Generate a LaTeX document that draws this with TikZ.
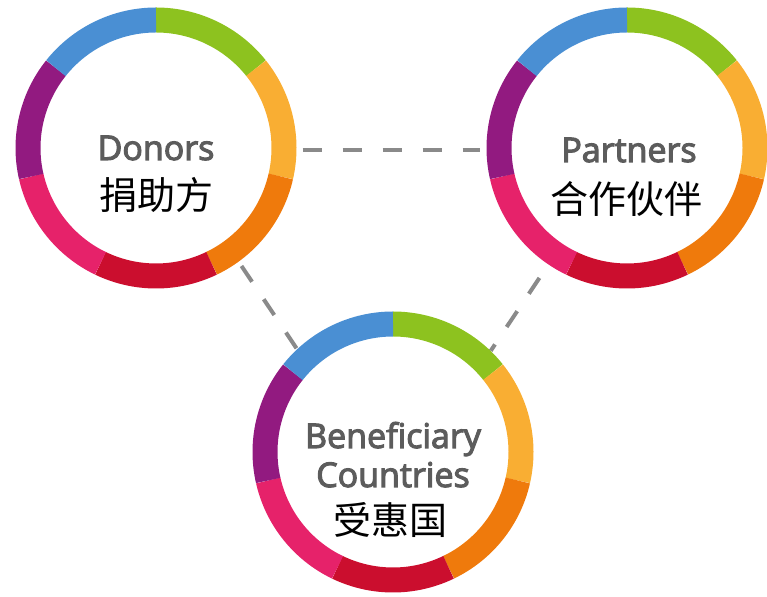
\documentclass[tikz,border=0pt]{standalone}
\usepackage{fontspec}
\setmainfont{Open Sans}
\newfontfamily\ensemi[FakeBold=3.2]{Open Sans}
\newfontfamily\cjk{Noto Sans CJK SC}
\usetikzlibrary{positioning}
\definecolor{RingGreen}{HTML}{8DC21F}
\definecolor{RingYellow}{HTML}{F9AE33}
\definecolor{RingOrange}{HTML}{EF7A0C}
\definecolor{RingRed}{HTML}{CB0E2E}
\definecolor{RingPink}{HTML}{E6226A}
\definecolor{RingPurple}{HTML}{921A80}
\definecolor{RingBlue}{HTML}{4A8FD3}
\definecolor{LinkGray}{HTML}{8A8A8A}
\definecolor{TextGray}{HTML}{5C5C5C}

\begin{document}
\begin{tikzpicture}[x=1pt, y=1pt,
    hub/.style={circle, minimum size=281pt, inner sep=0pt},
    link/.style={LinkGray, line width=4pt, dash pattern=on 19pt off 21pt},
    en/.style={anchor=base, inner sep=0pt, text=TextGray, font=\ensemi\fontsize{34}{36}\selectfont},
    cn/.style={anchor=base, inner sep=0pt, font=\cjk\fontsize{38}{42}\selectfont}]
    \useasboundingbox (0,0) rectangle (767,596);
    \foreach \n/\x/\y in {donors/156/448, partners/627/448, benef/393/144} {
        \node[hub] (\n) at (\x,\y) {};
    }
    % dashed links between the rings
    \draw[link, shorten <=6pt, shorten >=6pt] (donors.-1) -- (partners.181);
    \draw[link, shorten <=5pt] (donors.-54) -- (benef.133);
    \draw[link, shorten <=16pt] (partners.236) -- (benef.46);
    % seven coloured segments, clockwise from the top
    \foreach \n in {donors, partners, benef} {
        \foreach \col [count=\i] in {RingGreen, RingYellow, RingOrange, RingRed, RingPink, RingPurple, RingBlue} {
            \pgfmathsetmacro{\a}{90 - 360/7*(\i-1)}
            \draw[\col, line width=25pt] (\n.center) ++(\a:128) arc[start angle=\a, delta angle=-360/7, radius=128];
        }
    }
    \node[en] (donorsEn) at (156,436) {Donors};
    \node[cn] (donorsCn) at (156,386) {捐助方};
    \node[en] (partnersEn) at (629,434) {Partners};
    \node[cn] (partnersCn) at (626,382) {合作伙伴};
    \node[en] (benefEn) at (393,148) {Beneficiary};
    \node[en] (benefEn2) at (393,109) {Countries};
    \node[cn] (benefCn) at (390,61) {受惠国};
\end{tikzpicture}
\end{document}
